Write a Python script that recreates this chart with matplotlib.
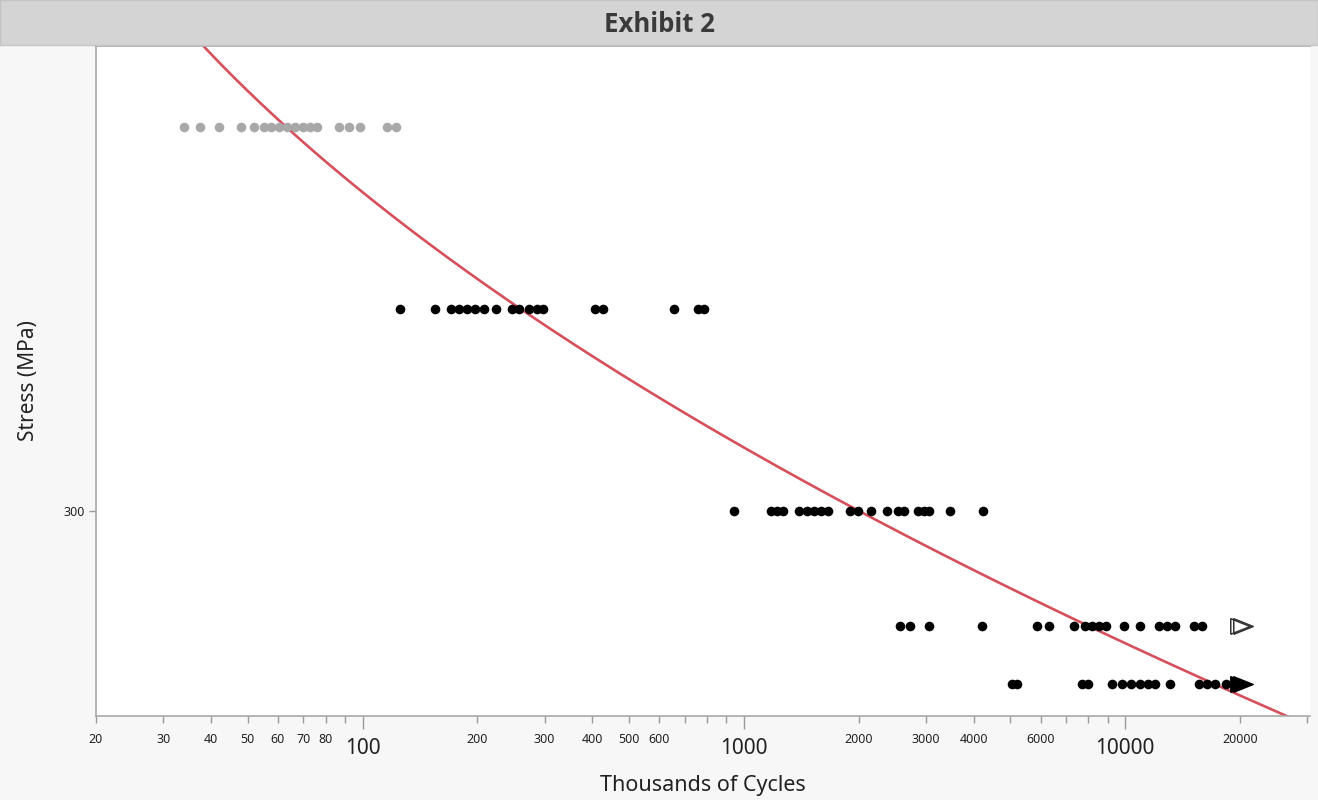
import matplotlib
matplotlib.use("Agg")
import matplotlib.pyplot as plt
import matplotlib.ticker as mticker
from matplotlib.patches import Rectangle
import numpy as np

plt.rcParams['font.family'] = ['Noto Sans', 'DejaVu Sans']

# stress levels (MPa) and cycles to failure (thousands)
stress_levels = [402, 350, 300, 275, 263]
cycles_400 = [34, 37.4, 42, 48, 52, 55, 57.7, 60.5, 63.5, 66.7, 70, 73, 76, 87, 92, 98.6, 116, 122]
cycles_350 = [125, 155, 171, 179, 188, 197, 208, 224, 246, 257, 273, 286, 298, 408, 426, 657, 759, 787]
cycles_300 = [942, 1178, 1221, 1266, 1394, 1463, 1526, 1591, 1660, 1895, 1988, 2150, 2367, 2529,
              2622, 2853, 2958, 3066, 3479, 4244]
cycles_275 = [2560, 2719, 3066, 4219, 5875, 6314, 7339, 7843, 8181, 8533, 8900, 9918, 10923, 12241,
              12846, 13482, 15114, 15858]
cycles_263 = [5052, 5207, 7701, 7985, 9228, 9799, 10345, 10923, 11462, 11955, 13081, 15577, 16346,
              17154, 18330]
# run-outs (test stopped, no failure)
runout_275 = [20000, 20400]
runout_263 = [20000, 20400]

# fitted S-N curve, quadratic in log-log: log10(N) = d0 + d1*u + d2*u^2, u = log10(S) - 2.5
fit_d0, fit_d1, fit_d2 = 2.976, -13.79, 24.13

major_x = [100, 1000, 10000]
minor_x = [20, 30, 40, 50, 60, 70, 80, 90, 200, 300, 400, 500, 600, 700, 800, 900,
           2000, 3000, 4000, 5000, 6000, 7000, 8000, 9000, 20000, 30000]
minor_lbl = ['20', '30', '40', '50', '60', '70', '80', '', '200', '300', '400', '500', '600', '', '', '',
             '2000', '3000', '4000', '', '6000', '', '', '', '20000', '']

W, H = 1318, 800
fig = plt.figure(figsize=(W / 100, H / 100), dpi=100, facecolor='#f7f7f7')
fig.patches.append(Rectangle((0, 1 - 45 / H), 1, 45 / H, transform=fig.transFigure,
                             facecolor='#d4d4d4', edgecolor='#c4c4c4', lw=1, zorder=0))
fig.text(0.5, 1 - 24 / H, 'Exhibit 2', ha='center', va='center', fontsize=18.5,
         fontweight='bold', color='#3a3a3a', family=['Open Sans', 'Lato', 'DejaVu Sans'])

ax = fig.add_axes([96 / W, 1 - 716 / H, (1310 - 96) / W, (716 - 46) / H])
ax.set_facecolor('white')
ax.set_xscale('log')
ax.set_yscale('log')
ax.set_xlim(20, 30500)
ax.set_ylim(256.7, 427.7)

s = np.linspace(250, 440, 400)
u = np.log10(s) - 2.5
n = 10 ** (fit_d0 + fit_d1 * u + fit_d2 * u ** 2)
ax.plot(n, s, color='#d6505c', lw=1.9, zorder=2)

ax.scatter(cycles_400, [stress_levels[0]] * len(cycles_400), s=48, color='#a8a8a8', lw=0, zorder=3)
for lvl, xs in zip(stress_levels[1:], [cycles_350, cycles_300, cycles_275, cycles_263]):
    ax.scatter(xs, [lvl] * len(xs), s=48, color='black', lw=0, zorder=3)

tri = [(-1, -0.8), (1, 0), (-1, 0.8), (-1, -0.8)]
ax.plot(runout_275, [stress_levels[3]] * len(runout_275), ls='none', marker=tri, ms=14,
        mfc='none', mec='#333333', mew=1.1, zorder=4)
ax.plot(runout_263, [stress_levels[4]] * len(runout_263), ls='none', marker=tri, ms=14,
        mfc='black', mec='black', mew=1, zorder=4)

ax.xaxis.set_major_locator(mticker.FixedLocator(major_x))
ax.xaxis.set_major_formatter(mticker.FixedFormatter(['100', '1000', '10000']))
ax.xaxis.set_minor_locator(mticker.FixedLocator(minor_x))
ax.xaxis.set_minor_formatter(mticker.FixedFormatter(minor_lbl))
ax.tick_params(axis='x', which='major', length=9, width=1, color='#9a9a9a',
               labelsize=15, pad=7, labelcolor='#222222')
ax.tick_params(axis='x', which='minor', length=5, width=1, color='#9a9a9a',
               labelsize=9, pad=7, labelcolor='#222222')

ax.yaxis.set_major_locator(mticker.FixedLocator([300]))
ax.yaxis.set_major_formatter(mticker.FixedFormatter(['300']))
ax.yaxis.set_minor_locator(mticker.NullLocator())
ax.tick_params(axis='y', which='major', length=5, width=1, color='#9a9a9a',
               labelsize=9, pad=3, labelcolor='#222222')

for side in ['left', 'bottom', 'top']:
    ax.spines[side].set_color('#a8a8a8')
    ax.spines[side].set_linewidth(1.2)
ax.spines['right'].set_visible(False)

ax.set_xlabel('Thousands of Cycles', fontsize=15.5, color='#222222', labelpad=11)
ax.set_ylabel('Stress (MPa)', fontsize=15, color='#222222', labelpad=18)

fig.savefig('out.png', dpi=100, facecolor=fig.get_facecolor())
